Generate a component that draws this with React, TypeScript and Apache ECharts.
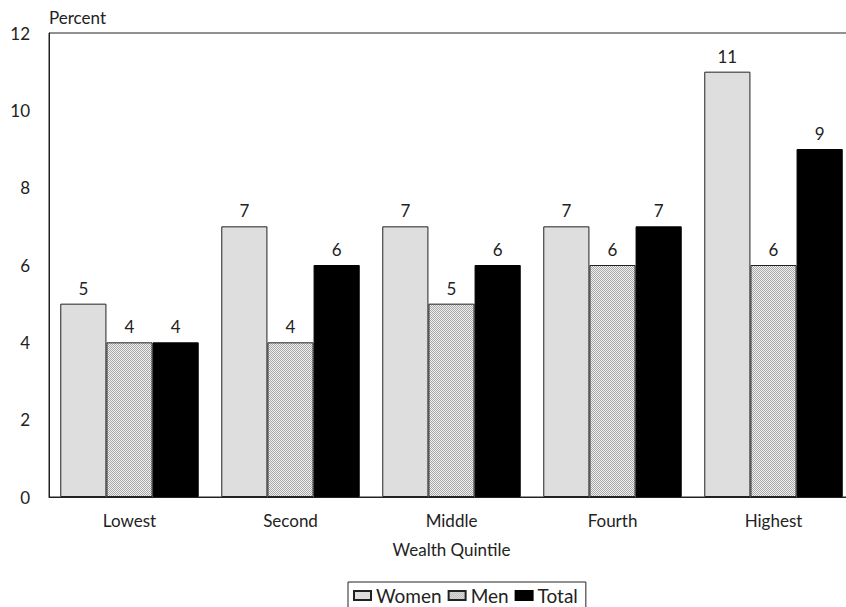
import React, { useEffect, useRef } from "react";
import * as echarts from "echarts";

const categories = ["Lowest", "Second", "Middle", "Fourth", "Highest"];
const women = [5, 7, 7, 7, 11];
const men = [4, 4, 5, 6, 6];
const total = [4, 6, 6, 7, 9];
const seriesNames = ["Women", "Men", "Total"];

function makePattern(): HTMLCanvasElement {
  const c = document.createElement("canvas");
  c.width = 4;
  c.height = 4;
  const ctx = c.getContext("2d")!;
  ctx.fillStyle = "#f0f0f0";
  ctx.fillRect(0, 0, 4, 4);
  ctx.fillStyle = "#a8a8a8";
  for (let y = 0; y < 4; y++) {
    for (let x = 0; x < 4; x++) {
      if ((x + y) % 2 === 0) ctx.fillRect(x, y, 1, 1);
    }
  }
  return c;
}

export default function App() {
  const ref = useRef<HTMLDivElement>(null);
  useEffect(() => {
    document.body.style.margin = "0";
    const chart = echarts.init(ref.current!, undefined, { renderer: "svg" });
    const font = "Lato, 'Open Sans', sans-serif";
    const labelStyle = {
      show: true,
      position: "top" as const,
      distance: 7,
      color: "#222",
      fontSize: 17,
      fontFamily: font,
    };
    const pattern = makePattern();
    chart.setOption({
      animation: false,
      backgroundColor: "#ffffff",
      textStyle: { fontFamily: font },
      grid: {
        left: 49,
        top: 33,
        right: -8,
        bottom: 110,
        show: true,
        borderColor: "#222",
        borderWidth: 1,
        backgroundColor: "transparent",
        containLabel: false,
        outerBoundsMode: "none",
      },
      legend: {
        top: 582,
        left: 348,
        data: seriesNames,
        icon: "rect",
        itemWidth: 17,
        itemHeight: 9,
        itemGap: 6,
        borderColor: "#222",
        borderWidth: 1,
        padding: [4, 8, 8, 5],
        textStyle: { fontSize: 19, color: "#222", fontFamily: font },
      },
      xAxis: {
        type: "category",
        data: categories,
        axisLine: { lineStyle: { color: "#222", width: 1 } },
        axisTick: { show: false },
        axisLabel: { color: "#222", fontSize: 17, margin: 15, fontFamily: font },
        name: "Wealth Quintile",
        nameLocation: "middle",
        nameGap: 44,
        nameTextStyle: { color: "#222", fontSize: 17, fontFamily: font },
      },
      yAxis: {
        type: "value",
        min: 0,
        max: 12,
        interval: 2,
        axisLine: { show: true, lineStyle: { color: "#222", width: 1 } },
        axisTick: { show: false },
        splitLine: { show: false },
        axisLabel: { color: "#222", fontSize: 17, margin: 19, fontFamily: font },
        name: "Percent",
        nameLocation: "end",
        nameGap: 7,
        nameTextStyle: {
          color: "#222",
          fontSize: 17,
          align: "left",
          fontFamily: font,
        },
      },
      series: [
        {
          name: seriesNames[0],
          type: "bar",
          data: women,
          barGap: "0%",
          barCategoryGap: "14%",
          itemStyle: { color: "#dedede", borderColor: "#222", borderWidth: 1 },
          label: labelStyle,
        },
        {
          name: seriesNames[1],
          type: "bar",
          data: men,
          itemStyle: {
            color: { image: pattern, repeat: "repeat" },
            borderColor: "#222",
            borderWidth: 1,
          },
          label: labelStyle,
        },
        {
          name: seriesNames[2],
          type: "bar",
          data: total,
          itemStyle: { color: "#000000", borderColor: "#000", borderWidth: 1 },
          label: labelStyle,
        },
      ],
    });
    return () => chart.dispose();
  }, []);
  return <div ref={ref} style={{ width: 846, height: 607 }} />;
}
